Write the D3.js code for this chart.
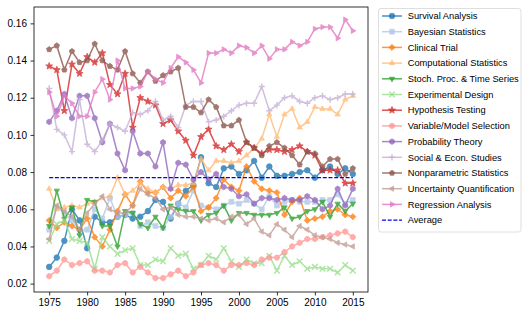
<!DOCTYPE html>
<html>
<head>
<meta charset="utf-8">
<script src="https://cdn.jsdelivr.net/npm/d3@7"></script>
<style>
  body { margin: 0; background: #fff; }
  svg { display: block; font-family: "Liberation Sans", Arial, sans-serif; }
</style>
</head>
<body>
<svg width="529" height="318"></svg>
<script>
var years = d3.range(1975, 2016);
var xTicks = [1975, 1980, 1985, 1990, 1995, 2000, 2005, 2010, 2015];
var yTicks = [0.02, 0.04, 0.06, 0.08, 0.10, 0.12, 0.14, 0.16];

var survival = [0.029,0.034,0.043,0.060,0.054,0.039,0.056,0.053,0.053,0.056,0.057,0.055,0.056,0.059,0.065,0.064,0.055,0.063,0.070,0.073,0.088,0.074,0.072,0.082,0.083,0.079,0.081,0.086,0.077,0.083,0.078,0.078,0.079,0.080,0.081,0.077,0.081,0.083,0.079,0.082,0.079];
var bayesian = [0.049,0.061,0.058,0.054,0.049,0.049,0.060,0.055,0.066,0.056,0.057,0.058,0.051,0.053,0.051,0.050,0.056,0.063,0.061,0.070,0.062,0.061,0.060,0.062,0.064,0.063,0.065,0.063,0.060,0.067,0.062,0.064,0.065,0.064,0.064,0.064,0.065,0.065,0.068,0.063,0.065];
var clinical = [0.054,0.050,0.053,0.051,0.049,0.055,0.045,0.040,0.049,0.059,0.068,0.062,0.075,0.069,0.069,0.072,0.066,0.070,0.067,0.072,0.059,0.061,0.066,0.076,0.072,0.070,0.083,0.075,0.071,0.070,0.069,0.057,0.064,0.066,0.054,0.055,0.056,0.059,0.060,0.057,0.056];
var computational = [0.071,0.060,0.061,0.062,0.061,0.063,0.064,0.066,0.067,0.077,0.068,0.070,0.074,0.071,0.069,0.072,0.071,0.073,0.073,0.074,0.087,0.081,0.086,0.086,0.085,0.086,0.089,0.093,0.098,0.111,0.099,0.111,0.114,0.104,0.107,0.115,0.114,0.114,0.111,0.119,0.121];
var stochastic = [0.051,0.070,0.055,0.061,0.046,0.065,0.064,0.051,0.051,0.040,0.059,0.058,0.052,0.050,0.056,0.050,0.062,0.060,0.059,0.059,0.054,0.057,0.058,0.062,0.054,0.058,0.058,0.057,0.057,0.057,0.058,0.061,0.055,0.056,0.059,0.060,0.064,0.056,0.063,0.059,0.063];
var experimental = [0.043,0.052,0.054,0.044,0.043,0.042,0.028,0.045,0.040,0.036,0.038,0.039,0.030,0.030,0.033,0.032,0.039,0.035,0.036,0.028,0.030,0.035,0.033,0.039,0.032,0.029,0.033,0.031,0.031,0.035,0.027,0.035,0.030,0.032,0.028,0.029,0.028,0.028,0.026,0.030,0.027];
var hypothesis = [0.137,0.135,0.113,0.138,0.133,0.142,0.139,0.144,0.127,0.122,0.133,0.104,0.120,0.118,0.116,0.106,0.108,0.102,0.097,0.089,0.099,0.103,0.094,0.092,0.095,0.091,0.096,0.093,0.090,0.092,0.092,0.091,0.092,0.094,0.091,0.089,0.081,0.081,0.081,0.074,0.074];
var variable = [0.024,0.027,0.033,0.030,0.031,0.032,0.027,0.027,0.026,0.030,0.031,0.026,0.029,0.026,0.023,0.023,0.025,0.027,0.024,0.026,0.030,0.031,0.030,0.027,0.030,0.030,0.031,0.030,0.033,0.034,0.034,0.037,0.040,0.042,0.044,0.044,0.045,0.046,0.047,0.048,0.045];
var probability = [0.107,0.113,0.122,0.109,0.121,0.121,0.109,0.096,0.106,0.090,0.081,0.102,0.090,0.090,0.083,0.096,0.071,0.085,0.084,0.076,0.080,0.076,0.079,0.072,0.071,0.067,0.068,0.063,0.066,0.066,0.065,0.066,0.065,0.065,0.067,0.065,0.060,0.062,0.071,0.062,0.071];
var social = [0.125,0.103,0.100,0.091,0.119,0.095,0.091,0.097,0.106,0.104,0.102,0.112,0.111,0.113,0.118,0.108,0.110,0.104,0.116,0.118,0.118,0.107,0.108,0.110,0.113,0.116,0.117,0.117,0.126,0.113,0.116,0.120,0.121,0.118,0.117,0.120,0.121,0.119,0.120,0.122,0.122];
var nonparametric = [0.146,0.148,0.135,0.145,0.139,0.140,0.149,0.140,0.137,0.135,0.145,0.133,0.128,0.134,0.129,0.132,0.134,0.136,0.115,0.115,0.112,0.119,0.115,0.105,0.105,0.108,0.096,0.093,0.089,0.094,0.096,0.093,0.089,0.084,0.091,0.090,0.083,0.087,0.087,0.079,0.082];
var uncertainty = [0.044,0.062,0.059,0.056,0.049,0.058,0.063,0.067,0.060,0.058,0.058,0.062,0.071,0.068,0.066,0.060,0.061,0.057,0.056,0.056,0.055,0.054,0.055,0.053,0.056,0.057,0.052,0.055,0.048,0.046,0.052,0.049,0.045,0.051,0.049,0.046,0.045,0.044,0.042,0.041,0.040];
var regression = [0.123,0.110,0.121,0.117,0.110,0.110,0.123,0.130,0.119,0.140,0.125,0.125,0.126,0.134,0.130,0.128,0.136,0.142,0.139,0.135,0.128,0.144,0.144,0.146,0.144,0.148,0.147,0.144,0.148,0.141,0.146,0.146,0.150,0.148,0.150,0.157,0.158,0.158,0.152,0.162,0.156];
var average = 0.077;

var names = ["Survival Analysis","Bayesian Statistics","Clinical Trial","Computational Statistics","Stoch. Proc. & Time Series","Experimental Design","Hypothesis Testing","Variable/Model Selection","Probability Theory","Social & Econ. Studies","Nonparametric Statistics","Uncertainty Quantification","Regression Analysis"];
var values = [survival,bayesian,clinical,computational,stochastic,experimental,hypothesis,variable,probability,social,nonparametric,uncertainty,regression];
var colors = ["#1f77b4","#aec7e8","#ff7f0e","#ffbb78","#2ca02c","#98df8a","#d62728","#ff9896","#9467bd","#c5b0d5","#8c564b","#c49c94","#e377c2"];
var markers = ["circle","square","diamond","tri-up","tri-down","x","star","octagon","hexagon","plus","pentagon","tri-left","tri-right"];

var svg = d3.select('svg');
var plotL = 34, plotR = 368, plotT = 7, plotB = 292;

var x = d3.scaleLinear().domain([1973, 2017]).range([plotL, plotR]);
var y = d3.scaleLinear().domain([0.0155, 0.1688]).range([plotB, plotT]);

function poly(n, r, rot) {
  var pts = [];
  for (var k = 0; k < n; k++) {
    var a = rot + k * 2 * Math.PI / n;
    pts.push([r * Math.sin(a), -r * Math.cos(a)]);
  }
  return 'M' + pts.map(function(p){ return p[0].toFixed(2) + ',' + p[1].toFixed(2); }).join('L') + 'Z';
}
function star(r) {
  var pts = [];
  for (var k = 0; k < 10; k++) {
    var rr = k % 2 ? r * 0.42 : r;
    var a = k * Math.PI / 5;
    pts.push([rr * Math.sin(a), -rr * Math.cos(a)]);
  }
  return 'M' + pts.map(function(p){ return p[0].toFixed(2) + ',' + p[1].toFixed(2); }).join('L') + 'Z';
}
function markerPath(m, r) {
  switch (m) {
    case 'circle': return d3.symbol(d3.symbolCircle, Math.PI * r * r)();
    case 'square': return 'M' + (-r*0.85) + ',' + (-r*0.85) + 'h' + (1.7*r) + 'v' + (1.7*r) + 'h' + (-1.7*r) + 'Z';
    case 'diamond': return poly(4, r * 1.1, 0);
    case 'tri-up': return poly(3, r * 1.1, 0);
    case 'tri-down': return poly(3, r * 1.1, Math.PI);
    case 'tri-left': return poly(3, r * 1.1, -Math.PI / 2);
    case 'tri-right': return poly(3, r * 1.1, Math.PI / 2);
    case 'star': return star(r * 1.3);
    case 'octagon': return poly(8, r, Math.PI / 8);
    case 'hexagon': return poly(6, r, 0);
    case 'pentagon': return poly(5, r, 0);
    case 'x': return 'M' + (-r) + ',' + (-r) + 'L' + r + ',' + r + 'M' + (-r) + ',' + r + 'L' + r + ',' + (-r);
    case 'plus': return 'M' + (-r*1.1) + ',0L' + (r*1.1) + ',0M0,' + (-r*1.1) + 'L0,' + (r*1.1);
  }
}

// axes
var xAxis = svg.append('g').attr('transform', 'translate(0,' + plotB + ')')
  .call(d3.axisBottom(x).tickValues(xTicks).tickFormat(d3.format('d')).tickSize(3.5).tickPadding(3.5));
var yAxis = svg.append('g').attr('transform', 'translate(' + plotL + ',0)')
  .call(d3.axisLeft(y).tickValues(yTicks).tickFormat(d3.format('.2f')).tickSize(3.5).tickPadding(3.5));
[xAxis, yAxis].forEach(function(a) {
  a.select('.domain').remove();
  a.selectAll('line').attr('stroke', '#000').attr('stroke-width', 0.8);
  a.selectAll('text').attr('font-size', 10).attr('fill', '#000').attr('font-family', '"Liberation Sans", Arial, sans-serif');
});

var line = d3.line().x(function(d, i){ return x(years[i]); }).y(function(d){ return y(d); });

values.forEach(function(vals, s) {
  var g = svg.append('g').attr('opacity', 0.8);
  g.append('path').datum(vals).attr('d', line).attr('fill', 'none')
    .attr('stroke', colors[s]).attr('stroke-width', 1.5);
  var open = markers[s] === 'x' || markers[s] === 'plus';
  g.selectAll('path.m').data(vals).enter().append('path').attr('class', 'm')
    .attr('transform', function(d, i){ return 'translate(' + x(years[i]) + ',' + y(d) + ')'; })
    .attr('d', markerPath(markers[s], 2.8))
    .attr('fill', open ? 'none' : colors[s])
    .attr('stroke', colors[s]).attr('stroke-width', open ? 1.4 : 0.8);
});

svg.append('line')
  .attr('x1', x(years[0])).attr('x2', x(years[years.length - 1]))
  .attr('y1', y(average)).attr('y2', y(average))
  .attr('stroke', '#0000ff').attr('stroke-width', 1.3).attr('stroke-dasharray', '4,1.7');

// frame
svg.append('rect').attr('x', plotL).attr('y', plotT).attr('width', plotR - plotL).attr('height', plotB - plotT)
  .attr('fill', 'none').attr('stroke', '#000').attr('stroke-width', 0.8);

// legend
var lg = svg.append('g');
lg.append('rect').attr('x', 378.5).attr('y', 8.5).attr('width', 142.5).attr('height', 223.5).attr('rx', 2.5)
  .attr('fill', '#fff').attr('fill-opacity', 0.8).attr('stroke', '#d6d6d6').attr('stroke-width', 0.8);
var entries = names.map(function(n, i){ return {name: n, color: colors[i], marker: markers[i]}; });
entries.push({name: 'Average', color: '#0000ff', marker: null});
entries.forEach(function(e, k) {
  var yy = 16 + k * 15.7;
  var item = lg.append('g');
  var l = item.append('line').attr('x1', 382).attr('x2', 402).attr('y1', yy).attr('y2', yy)
    .attr('stroke', e.color).attr('stroke-width', 1.5).attr('opacity', e.marker ? 0.8 : 1);
  if (!e.marker) l.attr('stroke-dasharray', '4,1.7').attr('stroke-width', 1.3);
  if (e.marker) {
    var open = e.marker === 'x' || e.marker === 'plus';
    item.append('path').attr('transform', 'translate(392,' + yy + ')')
      .attr('d', markerPath(e.marker, 2.8)).attr('opacity', 0.8)
      .attr('fill', open ? 'none' : e.color).attr('stroke', e.color).attr('stroke-width', open ? 1.4 : 0.8);
  }
  item.append('text').attr('x', 407.7).attr('y', yy).attr('dy', '0.35em')
    .attr('font-size', 9.3).attr('fill', '#000').text(e.name);
});
</script>
</body>
</html>
